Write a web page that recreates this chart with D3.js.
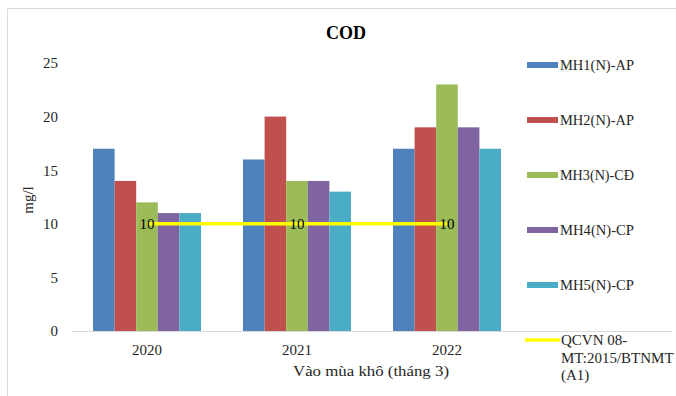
<!DOCTYPE html>
<html>
<head>
<meta charset="utf-8">
<script src="https://cdn.jsdelivr.net/npm/d3@7"></script>
<style>
  html, body { margin: 0; padding: 0; background: #fff; }
  svg { display: block; }
  svg text { font-family: "Liberation Serif", "Times New Roman", serif; }
</style>
</head>
<body>
<svg id="chart" width="676" height="396"></svg>
<script>
// COD concentration by sampling point, dry season (March)
const years = ["2020", "2021", "2022"];
const seriesNames = ["MH1(N)-AP", "MH2(N)-AP", "MH3(N)-CĐ", "MH4(N)-CP", "MH5(N)-CP"];
const seriesColors = ["#4F81BD", "#C0504D", "#9BBB59", "#8064A2", "#4BACC6"];
const mh1 = [17, 16, 17];
const mh2 = [14, 20, 19];
const mh3 = [12, 14, 23];
const mh4 = [11, 14, 19];
const mh5 = [11, 13, 17];
const standard = [10, 10, 10];
const standardName = ["QCVN 08-", "MT:2015/BTNMT", "(A1)"];
const yTicks = [0, 5, 10, 15, 20, 25];

const seriesValues = [mh1, mh2, mh3, mh4, mh5];
const textColor = "#262626";

const svg = d3.select("#chart");

// chart frame (left and top edges visible)
svg.append("path")
  .attr("d", "M7.5,396 V8.5 H676")
  .attr("fill", "none")
  .attr("stroke", "#d9d9d9")
  .attr("stroke-width", 1);

const plot = { left: 72, right: 522, top: 63, bottom: 331 };

const x = d3.scaleBand().domain(years).range([plot.left, plot.right]).paddingInner(0.28).paddingOuter(0.14);
const xs = d3.scaleBand().domain(d3.range(seriesNames.length)).range([0, x.bandwidth()]);
const y = d3.scaleLinear().domain([0, 25]).range([plot.bottom, plot.top]);

// title
svg.append("text")
  .attr("x", 346).attr("y", 39)
  .attr("text-anchor", "middle")
  .attr("font-weight", "bold")
  .attr("font-size", 18)
  .attr("fill", "#000")
  .text("COD");

// y axis labels
const yAxis = d3.axisLeft(y).tickValues(yTicks).tickSize(0).tickPadding(0);
const yg = svg.append("g").attr("transform", `translate(${58},0)`).call(yAxis);
yg.select(".domain").remove();
yg.selectAll("text").attr("font-size", 15).attr("fill", textColor);

// bars
const groups = svg.append("g").selectAll("g")
  .data(seriesValues)
  .join("g")
  .attr("fill", (d, i) => seriesColors[i]);

groups.each(function (vals, si) {
  d3.select(this).selectAll("rect")
    .data(vals)
    .join("rect")
    .attr("x", (v, ci) => x(years[ci]) + xs(si))
    .attr("width", xs.bandwidth())
    .attr("y", v => y(v))
    .attr("height", v => y(0) - y(v));
});

// x axis
const xAxis = d3.axisBottom(x).tickSize(0).tickPadding(13);
const xg = svg.append("g").attr("transform", `translate(0,${plot.bottom})`).call(xAxis);
xg.select(".domain").remove();
xg.selectAll("text").attr("font-size", 15).attr("fill", textColor);
svg.append("line")
  .attr("x1", plot.left).attr("x2", 672)
  .attr("y1", plot.bottom + 0.5).attr("y2", plot.bottom + 0.5)
  .attr("stroke", "#d9d9d9").attr("stroke-width", 1);

// standard line
const line = d3.line()
  .x((d, i) => x(years[i]) + x.bandwidth() / 2)
  .y(d => y(d));
svg.append("path")
  .datum(standard)
  .attr("d", line)
  .attr("fill", "none")
  .attr("stroke", "#FFFF00")
  .attr("stroke-width", 3.5);

svg.append("g").selectAll("text")
  .data(standard)
  .join("text")
  .attr("x", (d, i) => x(years[i]) + x.bandwidth() / 2)
  .attr("y", d => y(d) + 5)
  .attr("text-anchor", "middle")
  .attr("font-size", 15)
  .attr("fill", "#000")
  .text(d => d);

// axis titles
svg.append("text")
  .attr("transform", `translate(33,${200}) rotate(-90)`)
  .attr("text-anchor", "middle")
  .attr("font-size", 15)
  .attr("fill", textColor)
  .text("mg/l");

svg.append("text")
  .attr("x", 371).attr("y", 376)
  .attr("text-anchor", "middle")
  .attr("font-size", 15)
  .attr("fill", textColor)
  .attr("textLength", 156)
  .attr("lengthAdjust", "spacingAndGlyphs")
  .text("Vào mùa khô (tháng 3)");

// legend
const legendY = d3.scalePoint().domain(d3.range(6)).range([65, 340]);
const legend = svg.append("g");
seriesNames.forEach((name, i) => {
  legend.append("rect")
    .attr("x", 527).attr("y", legendY(i) - 3)
    .attr("width", 31).attr("height", 6)
    .attr("fill", seriesColors[i]);
  legend.append("text")
    .attr("x", 560).attr("y", legendY(i) + 5)
    .attr("font-size", 15)
    .attr("fill", textColor)
    .attr("textLength", 74)
    .attr("lengthAdjust", "spacingAndGlyphs")
    .text(name);
});
legend.append("line")
  .attr("x1", 525).attr("x2", 560)
  .attr("y1", legendY(5)).attr("y2", legendY(5))
  .attr("stroke", "#FFFF00").attr("stroke-width", 3.5);
standardName.forEach((t, k) => {
  legend.append("text")
    .attr("x", 561).attr("y", legendY(5) + 5 + k * 17.5)
    .attr("font-size", 15)
    .attr("fill", textColor)
    .text(t);
});
</script>
</body>
</html>
